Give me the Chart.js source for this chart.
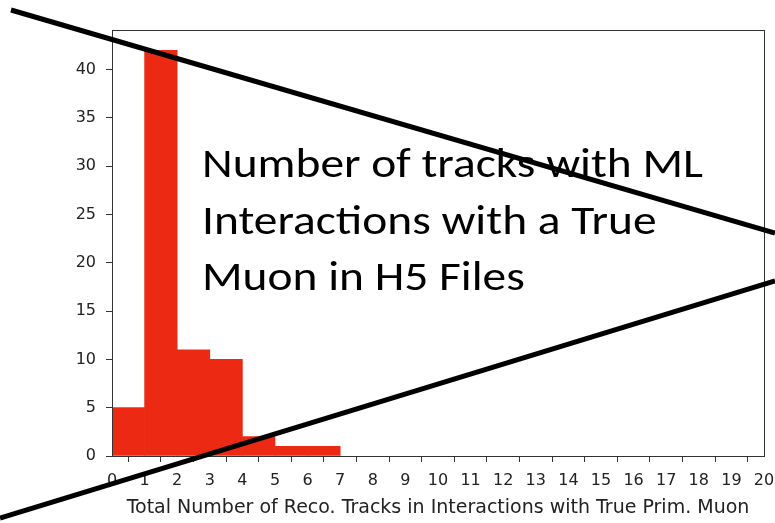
<!DOCTYPE html>
<html lang="en">
<head>
  <meta charset="UTF-8">
  <title>Reco tracks histogram</title>
  <script src="https://cdn.jsdelivr.net/npm/chart.js"></script>
  <style>
    html, body { margin: 0; padding: 0; background: #fff; }
    #wrap { width: 775px; height: 523px; position: relative; }
  </style>
</head>
<body>
  <div id="wrap"><canvas id="hist"></canvas></div>

  <script>
    // histogram bins (left edges) and counts
    const binEdges = [0, 1, 2, 3, 4, 5, 6];
    const counts = [5, 42, 11, 10, 2, 1, 1];
    const xTicks = [0,1,2,3,4,5,6,7,8,9,10,11,12,13,14,15,16,17,18,19,20];
    const yTicks = [0, 5, 10, 15, 20, 25, 30, 35, 40];
    const xTitle = 'Total Number of Reco. Tracks in Interactions with True Prim. Muon';
    const noteLines = ['Number of tracks with ML', 'Interactions with a True', 'Muon in H5 Files'];

    const barColor = '#ec2a14';
    const axisColor = '#333';

    // frame on all four sides, like matplotlib spines
    const frame = {
      id: 'frame',
      afterDatasetsDraw(chart) {
        const { ctx, chartArea: a } = chart;
        ctx.save();
        ctx.strokeStyle = axisColor;
        ctx.lineWidth = 1;
        ctx.strokeRect(Math.round(a.left) + 0.5, Math.round(a.top) + 0.5,
                       Math.round(a.right - a.left), Math.round(a.bottom - a.top));
        ctx.restore();
      }
    };

    // slide overlay: text box and the two black strike lines
    const overlay = {
      id: 'overlay',
      afterDraw(chart) {
        const ctx = chart.ctx;
        ctx.save();
        ctx.fillStyle = '#000';
        ctx.font = '42px Carlito, Calibri, "Open Sans", sans-serif';
        ctx.textBaseline = 'alphabetic';
        const w = ctx.measureText(noteLines[0]).width;
        const sx = 501 / w;
        noteLines.forEach((t, i) => {
          ctx.save();
          ctx.translate(202, 177 + i * 56.5);
          ctx.scale(sx, 1);
          ctx.fillText(t, 0, 0);
          ctx.restore();
        });
        ctx.strokeStyle = '#000';
        ctx.lineWidth = 5;
        ctx.lineCap = 'butt';
        ctx.beginPath();
        ctx.moveTo(11, 10);
        ctx.lineTo(775, 233);
        ctx.moveTo(0, 518);
        ctx.lineTo(775, 281);
        ctx.stroke();
        ctx.restore();
      }
    };

    const tickFont = { family: '"DejaVu Sans", sans-serif', size: 16 };
    const titleFont = { family: '"DejaVu Sans", sans-serif', size: 19 };

    new Chart(document.getElementById('hist'), {
      type: 'bar',
      data: {
        datasets: [{
          data: binEdges.map((e, i) => ({ x: e + 0.5, y: counts[i] })),
          backgroundColor: barColor,
          borderWidth: 0,
          barPercentage: 1,
          categoryPercentage: 1
        }]
      },
      options: {
        responsive: true,
        maintainAspectRatio: false,
        animation: false,
        layout: { padding: { top: 30, right: 11, left: 0, bottom: 0 } },
        plugins: { legend: { display: false }, tooltip: { enabled: false } },
        scales: {
          x: {
            type: 'linear',
            min: 0,
            max: 20,
            offset: false,
            afterBuildTicks: s => { s.ticks = xTicks.map(v => ({ value: v })); },
            afterFit: s => { s.height = 67; s.paddingRight = 0; s.paddingLeft = 0; },
            grid: { drawOnChartArea: false, drawTicks: true, tickLength: 6, color: axisColor },
            border: { color: axisColor },
            ticks: { color: '#222', font: tickFont, padding: 9, maxRotation: 0, autoSkip: false },
            title: { display: true, text: xTitle, color: '#222', font: titleFont, padding: { top: 1 } }
          },
          y: {
            min: 0,
            max: 44.1,
            afterBuildTicks: s => { s.ticks = yTicks.map(v => ({ value: v })); },
            afterFit: s => { s.width = 112; s.paddingTop = 0; s.paddingBottom = 0; },
            grid: { drawOnChartArea: false, drawTicks: true, tickLength: 6, color: axisColor },
            border: { color: axisColor },
            ticks: { color: '#222', font: tickFont, padding: 10 }
          }
        }
      },
      plugins: [frame, overlay]
    });
  </script>
</body>
</html>
